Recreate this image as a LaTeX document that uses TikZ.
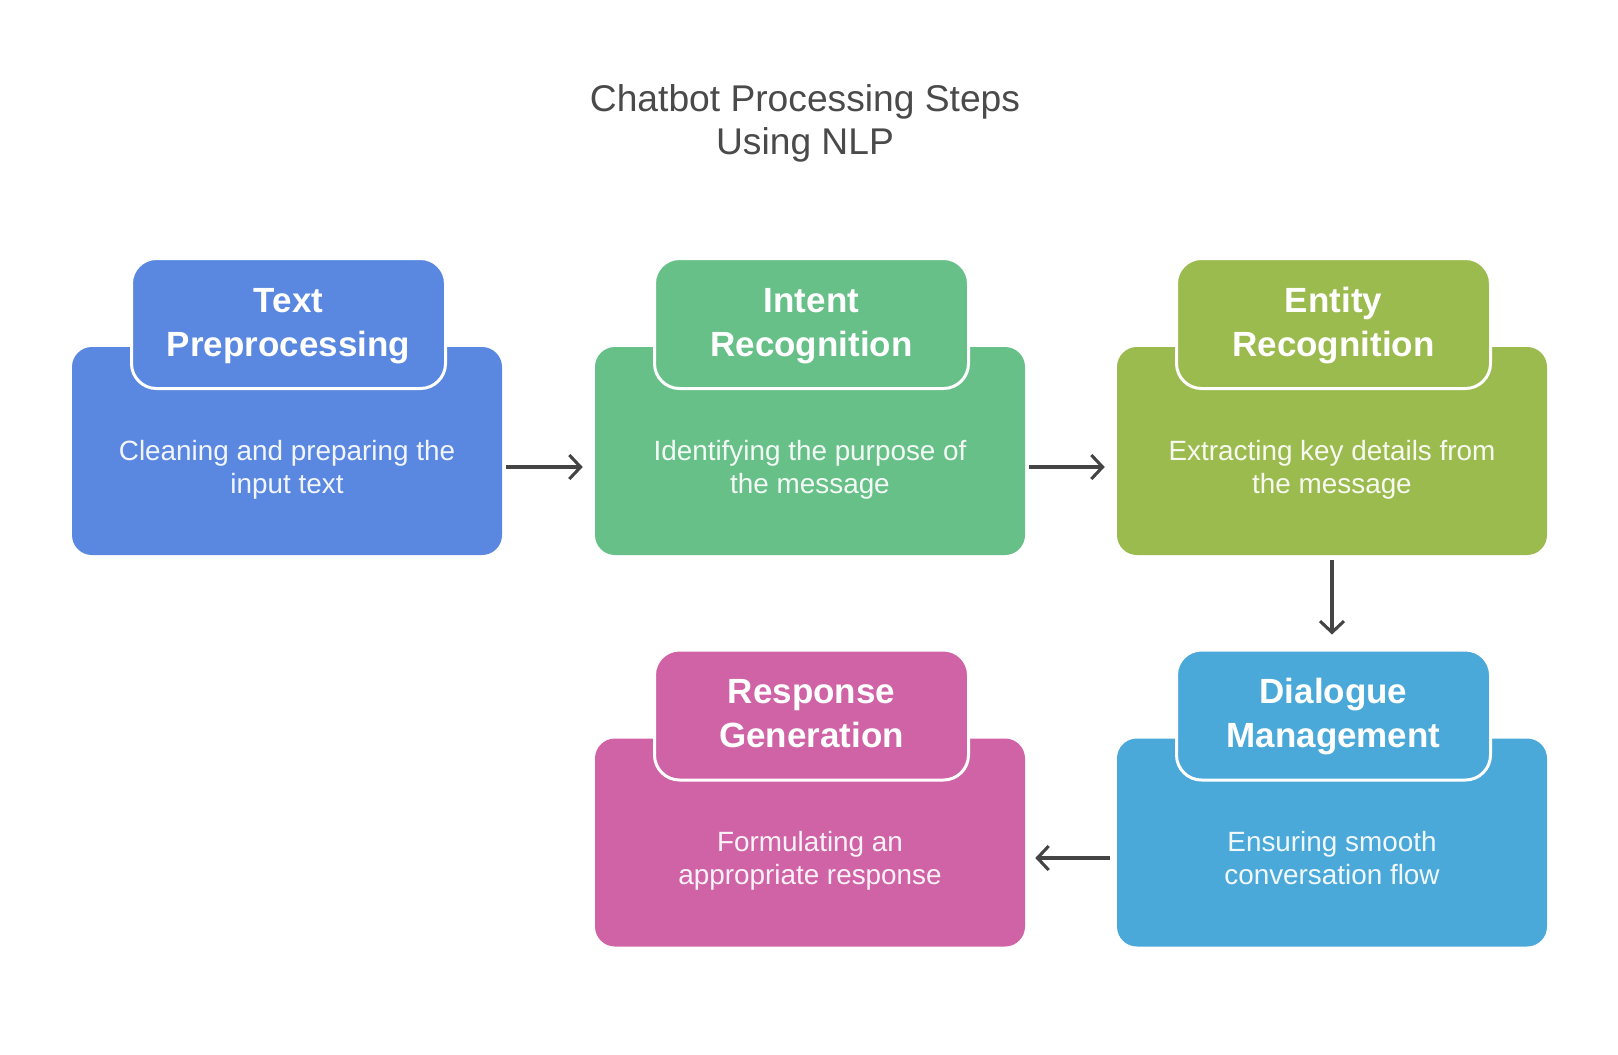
\documentclass[tikz,border=0pt]{standalone}
\usepackage{fontspec}
\setmainfont{Liberation Sans}
\usetikzlibrary{arrows.meta}
\definecolor{cblue}{HTML}{5A87E0}
\definecolor{cgreen}{HTML}{67C088}
\definecolor{colive}{HTML}{9BBB4E}
\definecolor{csky}{HTML}{4AA9D9}
\definecolor{cpink}{HTML}{D063A6}
\definecolor{ctitle}{HTML}{4A4A4A}
\definecolor{carrow}{HTML}{444444}
\begin{document}
\begin{tikzpicture}[x=0.75pt,y=-0.75pt,
  body/.style={rounded corners=15pt, minimum width=322.5pt, minimum height=156pt, inner sep=0pt},
  tabbox/.style={rounded corners=18.75pt, draw=white, line width=2.25pt, minimum width=235.5pt, minimum height=97.5pt, inner sep=0pt},
  head/.style={text=white, font=\fontsize{26.25}{33}\selectfont\bfseries, align=center, inner sep=0pt},
  desc/.style={text=white, text opacity=0.92, font=\fontsize{20.9}{24.75}\selectfont, align=center, inner sep=0pt},
  flow/.style={draw=carrow, line width=2.3pt, -{Straight Barb[length=8.5pt,width=18pt]}},
  titletext/.style={text=ctitle, font=\fontsize{27.9}{32.5}\selectfont, align=center}
]
\useasboundingbox[fill=white] (0,0) rectangle (1618,1054);

\node[titletext] (title) at (805,123.5) {Chatbot Processing Steps\\Using NLP};

% row 1
\node[body, fill=cblue]  (b1) at (287,451) {};
\node[tabbox, fill=cblue] (t1) at (288.5,323.5) {};
\node[head] (h1) at (288.5,325.2) {\strut Text\\\strut Preprocessing};
\node[desc] (d1) at (287,470) {\strut Cleaning and preparing the\\\strut input text};

\node[body, fill=cgreen]  (b2) at (810,451) {};
\node[tabbox, fill=cgreen] (t2) at (811.5,323.5) {};
\node[head] (h2) at (811.5,325.2) {\strut Intent\\\strut Recognition};
\node[desc] (d2) at (810,470) {\strut Identifying the purpose of\\\strut the message};

\node[body, fill=colive]  (b3) at (1332,451) {};
\node[tabbox, fill=colive] (t3) at (1333.5,323.5) {};
\node[head] (h3) at (1333.5,325.2) {\strut Entity\\\strut Recognition};
\node[desc] (d3) at (1332,470) {\strut Extracting key details from\\\strut the message};

% row 2
\node[body, fill=cpink]  (b4) at (810,842.5) {};
\node[tabbox, fill=cpink] (t4) at (811.5,715) {};
\node[head] (h4) at (811.5,717) {\strut Response\\\strut Generation};
\node[desc] (d4) at (810,861) {\strut Formulating an\\\strut appropriate response};

\node[body, fill=csky]  (b5) at (1332,842.5) {};
\node[tabbox, fill=csky] (t5) at (1333.5,715) {};
\node[head] (h5) at (1333.5,717) {\strut Dialogue\\\strut Management};
\node[desc] (d5) at (1332,861) {\strut Ensuring smooth\\\strut conversation flow};

% connectors
\coordinate (a1) at (0,467);
\coordinate (a2) at (0,858);
\draw[flow, shorten <=3pt, shorten >=9pt] (b1.east |- a1) -- (b2.west |- a1);
\draw[flow, shorten <=3pt, shorten >=9pt] (b2.east |- a1) -- (b3.west |- a1);
\draw[flow, shorten <=3.75pt, shorten >=10.5pt] (b3.south) -- (b3.south |- t5.north);
\draw[flow, shorten <=5.25pt, shorten >=7.5pt] (b5.west |- a2) -- (b4.east |- a2);
\end{tikzpicture}
\end{document}
